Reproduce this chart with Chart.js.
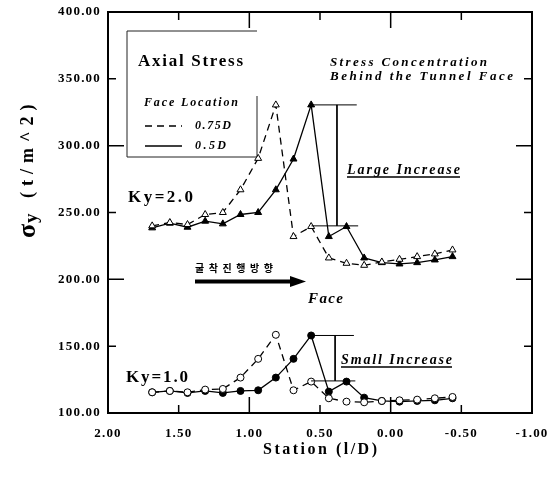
<!DOCTYPE html>
<html>
<head>
<meta charset="utf-8">
<script src="https://cdn.jsdelivr.net/npm/chart.js@4.4.0/dist/chart.umd.min.js"></script>
<style>
html,body{margin:0;padding:0;background:#fff}
#wrap{width:553px;height:481px}
</style>
</head>
<body>
<div id="wrap"><canvas id="c" width="553" height="481"></canvas></div>
<script>
// station (l/D), one value per 1/8 D step
const stations = [1.6875, 1.5625, 1.4375, 1.3125, 1.1875, 1.0625, 0.9375, 0.8125, 0.6875,
  0.5625, 0.4375, 0.3125, 0.1875, 0.0625, -0.0625, -0.1875, -0.3125, -0.4375]

// sigma y (t/m^2)
const ky2Face075 = [240, 242.5, 241, 248.5, 250, 267, 290.5, 330.5, 232, 239.5, 216, 212, 210.5, 213, 215, 217, 219, 222]
const ky2Face05 = [238.5, 242, 239, 243.5, 241.5, 248.5, 250, 267, 290, 330.5, 232, 239.5, 216, 212.5, 211.5, 212.5, 214.5, 217]
const ky1Face075 = [115.5, 116.5, 115.5, 117.5, 118, 126.5, 140.5, 158.5, 117, 123.5, 111, 108.5, 108, 109, 109.5, 110, 111, 112]
const ky1Face05 = [115.5, 116.5, 115, 116.5, 115, 116.5, 117, 126.5, 140.5, 158, 116, 123.5, 111.5, 109, 108.5, 109, 109.5, 111]

// increase brackets [x, y]
const largeTop = [[0.5625, 330.5], [0.24, 330.5]]
const largeBottom = [[0.56, 240], [0.23, 240]]
const largeVert = [[0.38, 330.5], [0.38, 240]]
const smallTop = [[0.5625, 158], [0.26, 158]]
const smallBottom = [[0.563, 124], [0.25, 124]]
const smallVert = [[0.393, 158], [0.393, 124]]

const xTicks = [2, 1.5, 1, 0.5, 0, -0.5, -1]
const yTicks = [100, 150, 200, 250, 300, 350, 400]

const SERIF = '"Liberation Serif", "DejaVu Serif", serif'

function pts(values){
    return values.map((v, i) => ({x: stations[i], y: v}))
}
function pairs(list){
    return list.map(p => ({x: p[0], y: p[1]}))
}
function series(values, dashed, style, filled){
    return {
        data: pts(values),
        borderColor: '#000',
        borderWidth: 1.3,
        borderDash: dashed ? [7, 5] : [],
        pointStyle: style,
        pointRadius: style == 'triangle' ? 4 : 3.5,
        pointBackgroundColor: filled ? '#000' : '#fff',
        pointBorderColor: '#000',
        pointBorderWidth: 1,
        tension: 0
    }
}
function bracket(list){
    return {data: pairs(list), borderColor: '#000', borderWidth: 1, pointRadius: 0, borderDash: []}
}

// write text so that it spans x0..x1 like the scanned lettering
function put(ctx, text, x0, x1, y, font){
    ctx.font = font
    ctx.letterSpacing = '0px'
    const w = ctx.measureText(text).width
    const sp = text.length > 1 ? (x1 - x0 - w) / (text.length - 1) : 0
    ctx.letterSpacing = sp.toFixed(2) + 'px'
    ctx.textAlign = 'left'
    ctx.textBaseline = 'middle'
    ctx.fillText(text, x0, y)
    ctx.letterSpacing = '0px'
}

const decor = {
    id: 'decor',
    beforeDraw(chart){
        chart.ctx.letterSpacing = '1.2px'
    },
    afterDraw(chart){
        const ctx = chart.ctx
        const {left, right, top, bottom} = chart.chartArea
        const xs = chart.scales.x
        const ys = chart.scales.y
        ctx.save()
        ctx.letterSpacing = '0px'
        ctx.strokeStyle = '#000'
        ctx.fillStyle = '#000'
        // frame
        ctx.lineWidth = 2
        ctx.strokeRect(left, top, right - left, bottom - top)
        // inward ticks, long on whole hundreds / whole stations
        ctx.lineWidth = 1.5
        ctx.beginPath()
        yTicks.forEach(v => {
            const y = ys.getPixelForValue(v)
            const len = v % 100 == 0 ? 16 : 8
            ctx.moveTo(left, y); ctx.lineTo(left + len, y)
            ctx.moveTo(right, y); ctx.lineTo(right - len, y)
        })
        xTicks.forEach(v => {
            const x = xs.getPixelForValue(v)
            const len = v % 1 == 0 ? 16 : 8
            ctx.moveTo(x, top); ctx.lineTo(x, top + len)
            ctx.moveTo(x, bottom); ctx.lineTo(x, bottom - len)
        })
        ctx.stroke()

        // legend box
        ctx.lineWidth = 1
        ctx.strokeStyle = '#222'
        ctx.beginPath()
        ctx.moveTo(127, 31); ctx.lineTo(257, 31)
        ctx.moveTo(127, 31); ctx.lineTo(127, 157)
        ctx.moveTo(127, 157); ctx.lineTo(257, 157)
        ctx.moveTo(257, 96); ctx.lineTo(257, 157)
        ctx.stroke()
        ctx.strokeStyle = '#000'
        ctx.lineWidth = 1.3
        ctx.setLineDash([7, 5])
        ctx.beginPath(); ctx.moveTo(145, 126); ctx.lineTo(182, 126); ctx.stroke()
        ctx.setLineDash([])
        ctx.beginPath(); ctx.moveTo(145, 146); ctx.lineTo(182, 146); ctx.stroke()

        put(ctx, 'Axial Stress', 138, 243, 62, 'bold 17px ' + SERIF)
        put(ctx, 'Face Location', 144, 238, 103, 'italic bold 12px ' + SERIF)
        put(ctx, '0.75D', 195, 231, 126, 'italic bold 12px ' + SERIF)
        put(ctx, '0.5D', 195, 226, 146, 'italic bold 12px ' + SERIF)
        put(ctx, 'Stress Concentration', 330, 487, 63, 'italic bold 13px ' + SERIF)
        put(ctx, 'Behind the Tunnel Face', 330, 513, 77, 'italic bold 13px ' + SERIF)
        put(ctx, 'Large Increase', 347, 460, 170, 'italic bold 14px ' + SERIF)
        put(ctx, 'Small Increase', 341, 452, 360, 'italic bold 14px ' + SERIF)
        ctx.lineWidth = 1.3
        ctx.beginPath()
        ctx.moveTo(347, 177); ctx.lineTo(460, 177)
        ctx.moveTo(341, 367); ctx.lineTo(452, 367)
        ctx.stroke()
        put(ctx, 'Ky=2.0', 128, 193, 198, 'bold 17px ' + SERIF)
        put(ctx, 'Ky=1.0', 126, 188, 378, 'bold 17px ' + SERIF)
        put(ctx, '굴착진행방향', 195, 273, 268, 'bold 10px "Noto Sans CJK KR"')
        put(ctx, 'Face', 308, 343, 299, 'italic bold 15px ' + SERIF)

        // excavation direction arrow
        ctx.lineWidth = 4
        ctx.beginPath(); ctx.moveTo(195, 281.5); ctx.lineTo(292, 281.5); ctx.stroke()
        ctx.beginPath()
        ctx.moveTo(306, 281.5); ctx.lineTo(290, 276); ctx.lineTo(290, 287); ctx.closePath()
        ctx.fill()

        // axis titles
        put(ctx, 'Station (l/D)', 263, 377, 450, 'bold 16px ' + SERIF)
        ctx.save()
        ctx.translate(28, 238)
        ctx.rotate(-Math.PI / 2)
        ctx.font = 'bold 26px ' + SERIF
        ctx.textAlign = 'left'
        ctx.textBaseline = 'middle'
        ctx.fillText('\u03c3', 0, 0)
        ctx.font = 'bold 19px ' + SERIF
        ctx.fillText('y', 15, 4)
        ctx.letterSpacing = '6px'
        ctx.font = 'bold 18px ' + SERIF
        ctx.fillText('(t/m^2)', 40, 0)
        ctx.restore()
        ctx.restore()
    }
}

const tickFont = {family: SERIF, size: 13, weight: 'bold'}

new Chart(document.getElementById('c'), {
    type: 'line',
    data: {
        datasets: [
            bracket(largeTop), bracket(largeBottom), bracket(largeVert),
            bracket(smallTop), bracket(smallBottom), bracket(smallVert),
            series(ky2Face075, true, 'triangle', false),
            series(ky2Face05, false, 'triangle', true),
            series(ky1Face075, true, 'circle', false),
            series(ky1Face05, false, 'circle', true)
        ]
    },
    options: {
        responsive: false,
        animation: false,
        layout: {padding: {top: 12, right: 21, left: 0, bottom: 0}},
        plugins: {legend: {display: false}, tooltip: {enabled: false}},
        scales: {
            x: {
                type: 'linear', reverse: true, min: -1, max: 2,
                afterBuildTicks: s => { s.ticks = xTicks.map(v => ({value: v})) },
                afterFit: s => { s.height = 68; s.paddingLeft = 0; s.paddingRight = 0 },
                grid: {display: false, drawTicks: false},
                border: {display: false},
                ticks: {
                    font: tickFont, color: '#000', padding: 13, maxRotation: 0,
                    callback: v => (v == 0 ? 0 : v).toFixed(2)
                }
            },
            y: {
                type: 'linear', min: 100, max: 400,
                afterBuildTicks: s => { s.ticks = yTicks.map(v => ({value: v})) },
                afterFit: s => { s.width = 108; s.paddingTop = 0; s.paddingBottom = 0 },
                grid: {display: false, drawTicks: false},
                border: {display: false},
                ticks: {
                    font: tickFont, color: '#000', padding: 7,
                    callback: v => v.toFixed(2)
                }
            }
        }
    },
    plugins: [decor]
})
</script>
</body>
</html>
